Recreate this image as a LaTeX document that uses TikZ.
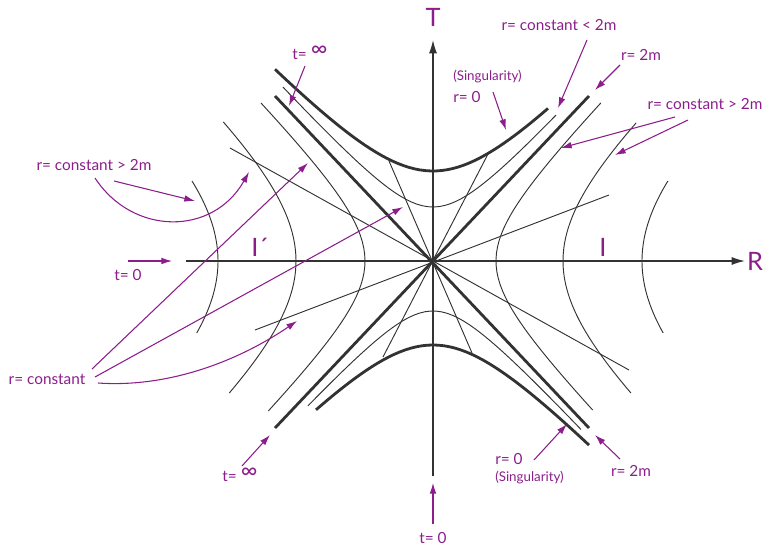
\documentclass[tikz,border=0pt]{standalone}
\usepackage{fontspec}
\setmainfont{Lato}
\usetikzlibrary{arrows.meta}
\definecolor{lilac}{RGB}{140,30,140}
\definecolor{ink}{RGB}{50,50,50}
\newcommand{\infsign}{\raisebox{2pt}{\fontsize{17}{17}\selectfont ∞}}

\begin{document}
\begin{tikzpicture}[x=0.75pt,y=0.75pt]
\tikzset{lbl/.style={text=lilac,font=\fontsize{11.5}{13}\selectfont,inner sep=0pt},
  big/.style={text=lilac,font=\fontsize{19}{22}\selectfont,inner sep=0pt},
  sml/.style={text=lilac,font=\fontsize{10}{12}\selectfont,inner sep=0pt},
  ptr/.style={lilac,line width=0.8pt,-{Latex[length=8pt,width=5pt]}},
  fine/.style={ink,line width=0.7pt},
  heavy/.style={ink,line width=2.1pt},
  axis/.style={ink,line width=1pt,-{Latex[length=10pt,width=6pt]}}}
\useasboundingbox (-433,-284) rectangle (331,261);

% axes
\draw[axis] (-247,0) -- (312,0);
\draw[axis] (0,-215) -- (0,221);
\path (322,0) node[big] (R) {R};
\path (0,244) node[big] (T) {T};
\path (-173,14) node[big] (Ip) {I´};
\path (170,14) node[big] (I) {I};

% r = constant > 2m, regions I and I'
\draw[fine] plot[domain=-149:158,samples=50] ({63*sqrt(1+(\x/64)^2)},\x);
\draw[fine] plot[domain=-132:138,samples=50] ({130*sqrt(1+(\x/115)^2)},\x);
\draw[fine] plot[domain=-72:80,samples=40] ({209*sqrt(1+(\x/156)^2)},\x);
\draw[fine] plot[domain=-150:158,samples=50] ({-68*sqrt(1+(\x/68)^2)},\x);
\draw[fine] plot[domain=-132:139,samples=50] ({-137*sqrt(1+(\x/120)^2)},\x);
\draw[fine] plot[domain=-72:80,samples=40] ({-215*sqrt(1+(\x/158)^2)},\x);

% r = constant < 2m
\draw[fine] plot[domain=-150:123,samples=50] (\x,{54*sqrt(1+(\x/49)^2)});
\draw[fine] plot[domain=-125:148,samples=50] (\x,{-50*sqrt(1+(\x/46)^2)});

% r = 0
\draw[heavy] plot[domain=-158:115,samples=50] (\x,{90*sqrt(1+(\x/84)^2)});
\draw[heavy] plot[domain=-117:156,samples=50] (\x,{-84*sqrt(1+(\x/80)^2)});

% r = 2m
\draw[heavy] (-158,165) -- (156,-167);
\draw[heavy] (-158,-167) -- (156,165);

% t = constant
\draw[fine] (-203,113) -- (196,-109);
\draw[fine] (-178,-69) -- (176,66);
\draw[fine] (-44,100) -- (39,-92);
\draw[fine] (-50,-96) -- (55,107);

% labels
\path (-123,208) node[lbl] (tinf) {t= \infsign};
\path (126,236) node[lbl] (rlow) {r= constant < 2m};
\path (208,206) node[lbl] (rh) {r= 2m};
\path (20,184) node[sml,anchor=west] (sing) {(Singularity)};
\path (20,164) node[lbl,anchor=west] (rzero) {r= 0};
\path (272,157) node[lbl] (rhigh) {r= constant > 2m};
\path (-339,96) node[lbl] (rhighb) {r= constant > 2m};
\path (-305,-14) node[lbl] (tzero) {t= 0};
\path (-386,-118) node[lbl] (rc) {r= constant};
\path (-193,-214) node[lbl] (tinfb) {t= \infsign};
\path (62,-198) node[lbl,anchor=west] (rzerob) {r= 0};
\path (62,-217) node[sml,anchor=west] (singb) {(Singularity)};
\path (198,-210) node[lbl] (rhb) {r= 2m};
\path (0,-277) node[lbl] (tzerob) {t= 0};

% arrow ends
\coordinate (a1) at (-128,195);  \coordinate (b1) at (-144,155);
\coordinate (a2) at (154,221);   \coordinate (b2) at (125,153);
\coordinate (a3) at (187,196);   \coordinate (b3) at (162,171);
\coordinate (a4) at (60,169);    \coordinate (b4) at (73,131);
\coordinate (a5) at (242,144);   \coordinate (b5) at (128,113);
\coordinate (a6) at (255,141);   \coordinate (b6) at (182,106);
\coordinate (a7) at (-319,80);   \coordinate (b7) at (-238,60);
\coordinate (a8) at (-338,83);   \coordinate (b8) at (-184,89);
\coordinate (a9) at (-305,0);    \coordinate (b9) at (-261,0);
\coordinate (a10) at (-341,-108); \coordinate (b10) at (-125,98);
\coordinate (a11) at (-338,-116); \coordinate (b11) at (-30,54);
\coordinate (a12) at (-335,-122); \coordinate (b12) at (-136,-60);
\coordinate (a13) at (-191,-205); \coordinate (b13) at (-163,-174);
\coordinate (a14) at (101,-199); \coordinate (b14) at (134,-163);
\coordinate (a15) at (187,-198); \coordinate (b15) at (162,-174);
\coordinate (a16) at (0,-263);   \coordinate (b16) at (0,-222);

\draw[ptr] (a1) -- (b1);
\draw[ptr] (a2) -- (b2);
\draw[ptr] (a3) -- (b3);
\draw[ptr] (a4) -- (b4);
\draw[ptr] (a5) -- (b5);
\draw[ptr] (a6) -- (b6);
\draw[ptr] (a7) -- (b7);
\draw[ptr] (a8) .. controls (-300,25) and (-220,25) .. (b8);
\draw[ptr] (a9) -- (b9);
\draw[ptr] (a10) -- (b10);
\draw[ptr] (a11) -- (b11);
\draw[ptr] (a12) .. controls (-263,-127) and (-193,-99) .. (b12);
\draw[ptr] (a13) -- (b13);
\draw[ptr] (a14) -- (b14);
\draw[ptr] (a15) -- (b15);
\draw[ptr] (a16) -- (b16);
\end{tikzpicture}
\end{document}
